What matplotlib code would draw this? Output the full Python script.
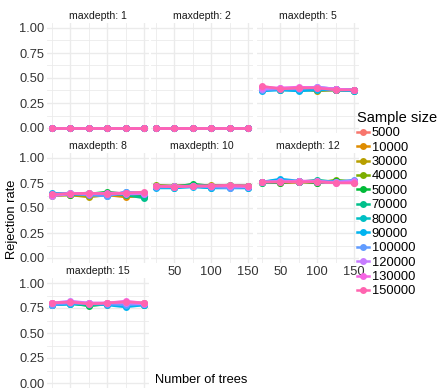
import matplotlib
matplotlib.use("Agg")
import matplotlib.pyplot as plt
from matplotlib.lines import Line2D

plt.rcParams['font.family'] = ['Liberation Sans', 'DejaVu Sans']

trees = [25, 50, 75, 100, 125, 150]
sample_sizes = ['5000', '10000', '30000', '40000', '50000', '70000', '80000',
                '90000', '100000', '120000', '130000', '150000']
colors = ['#F8766D', '#DE8C00', '#B79F00', '#7CAE00', '#00BA38', '#00C08B',
          '#00BFC4', '#00B4F0', '#619CFF', '#C77CFF', '#F564E3', '#FF64B0']
depths = [1, 2, 5, 8, 10, 12, 15]

zeros = [[0.0] * 6 for _ in sample_sizes]

depth5 = [
    [0.40, 0.39, 0.40, 0.39, 0.39, 0.38],
    [0.39, 0.38, 0.39, 0.38, 0.38, 0.38],
    [0.40, 0.39, 0.39, 0.37, 0.38, 0.38],
    [0.39, 0.39, 0.38, 0.38, 0.39, 0.37],
    [0.38, 0.39, 0.39, 0.39, 0.38, 0.38],
    [0.39, 0.38, 0.38, 0.39, 0.38, 0.37],
    [0.38, 0.39, 0.38, 0.39, 0.39, 0.38],
    [0.37, 0.38, 0.37, 0.38, 0.38, 0.37],
    [0.38, 0.39, 0.39, 0.41, 0.39, 0.38],
    [0.39, 0.40, 0.40, 0.41, 0.39, 0.38],
    [0.41, 0.40, 0.41, 0.40, 0.39, 0.38],
    [0.42, 0.39, 0.40, 0.40, 0.38, 0.38],
]
depth8 = [
    [0.63, 0.64, 0.63, 0.64, 0.62, 0.62],
    [0.64, 0.63, 0.62, 0.63, 0.61, 0.62],
    [0.62, 0.63, 0.61, 0.63, 0.63, 0.62],
    [0.63, 0.64, 0.63, 0.65, 0.64, 0.63],
    [0.64, 0.63, 0.64, 0.66, 0.64, 0.61],
    [0.63, 0.64, 0.65, 0.64, 0.63, 0.60],
    [0.64, 0.65, 0.64, 0.63, 0.65, 0.64],
    [0.65, 0.64, 0.64, 0.62, 0.66, 0.64],
    [0.64, 0.64, 0.63, 0.62, 0.66, 0.65],
    [0.62, 0.64, 0.65, 0.64, 0.64, 0.64],
    [0.63, 0.65, 0.64, 0.65, 0.65, 0.65],
    [0.64, 0.64, 0.65, 0.64, 0.65, 0.66],
]
depth10 = [
    [0.72, 0.72, 0.72, 0.71, 0.72, 0.71],
    [0.71, 0.72, 0.73, 0.72, 0.71, 0.72],
    [0.72, 0.71, 0.72, 0.73, 0.72, 0.71],
    [0.73, 0.72, 0.73, 0.72, 0.72, 0.72],
    [0.72, 0.71, 0.74, 0.72, 0.73, 0.72],
    [0.71, 0.70, 0.73, 0.71, 0.72, 0.71],
    [0.71, 0.71, 0.72, 0.70, 0.71, 0.70],
    [0.70, 0.70, 0.71, 0.70, 0.70, 0.70],
    [0.71, 0.71, 0.72, 0.71, 0.70, 0.71],
    [0.72, 0.72, 0.72, 0.72, 0.72, 0.71],
    [0.72, 0.71, 0.72, 0.72, 0.72, 0.72],
    [0.72, 0.71, 0.72, 0.72, 0.73, 0.72],
]
depth12 = [
    [0.76, 0.76, 0.76, 0.76, 0.76, 0.75],
    [0.76, 0.75, 0.76, 0.77, 0.76, 0.76],
    [0.76, 0.76, 0.77, 0.76, 0.77, 0.76],
    [0.75, 0.76, 0.76, 0.75, 0.78, 0.76],
    [0.76, 0.75, 0.77, 0.75, 0.77, 0.77],
    [0.75, 0.77, 0.76, 0.78, 0.76, 0.77],
    [0.76, 0.78, 0.76, 0.77, 0.76, 0.77],
    [0.76, 0.79, 0.77, 0.76, 0.76, 0.77],
    [0.76, 0.77, 0.76, 0.77, 0.76, 0.78],
    [0.76, 0.77, 0.77, 0.76, 0.76, 0.77],
    [0.76, 0.76, 0.77, 0.77, 0.75, 0.76],
    [0.76, 0.76, 0.76, 0.76, 0.75, 0.75],
]
depth15 = [
    [0.79, 0.80, 0.79, 0.78, 0.81, 0.79],
    [0.80, 0.80, 0.79, 0.80, 0.80, 0.79],
    [0.79, 0.81, 0.79, 0.79, 0.80, 0.80],
    [0.79, 0.80, 0.78, 0.79, 0.79, 0.79],
    [0.78, 0.80, 0.77, 0.79, 0.79, 0.78],
    [0.79, 0.79, 0.78, 0.79, 0.78, 0.78],
    [0.78, 0.79, 0.79, 0.79, 0.77, 0.79],
    [0.78, 0.79, 0.80, 0.78, 0.76, 0.78],
    [0.78, 0.80, 0.79, 0.79, 0.78, 0.79],
    [0.80, 0.82, 0.80, 0.80, 0.80, 0.79],
    [0.80, 0.81, 0.80, 0.80, 0.82, 0.80],
    [0.80, 0.81, 0.79, 0.80, 0.81, 0.80],
]
rates = [zeros, zeros, depth5, depth8, depth10, depth12, depth15]

W, H = 442, 389
fig = plt.figure(figsize=(W / 100, H / 100), dpi=100)

col_left = [47.4, 151.4, 257.4]
row_top = [23, 153, 278]
pw, ph = 101.2, 110

def px_axes(left, top, w, h):
    return fig.add_axes([left / W, 1 - (top + h) / H, w / W, h / H])

grid_col = '#EBEBEB'
for i, d in enumerate(depths):
    r, c = divmod(i, 3)
    ax = px_axes(col_left[c], row_top[r], pw, ph)
    ax.set_xlim(18.75, 156.25)
    ax.set_ylim(-0.05, 1.05)
    ax.set_xticks([50, 100, 150])
    ax.set_xticks([25, 75, 125], minor=True)
    ax.set_yticks([0, 0.25, 0.5, 0.75, 1.0])
    ax.set_yticks([0.125, 0.375, 0.625, 0.875], minor=True)
    ax.grid(True, which='major', color=grid_col, lw=1.0)
    ax.grid(True, which='minor', color=grid_col, lw=0.6)
    ax.set_axisbelow(True)
    for s in ax.spines.values():
        s.set_visible(False)
    ax.tick_params(which='both', length=0, labelsize=9.3, labelcolor='#333333', pad=2)
    if c != 0:
        ax.set_yticklabels([])
    else:
        ax.set_yticklabels(['0.00', '0.25', '0.50', '0.75', '1.00'])
    # x labels only on the panels of row 2 that have nothing below them
    if not (r == 1 and c > 0):
        ax.set_xticklabels([])
    ax.set_title(f'maxdepth: {d}', fontsize=7.6, pad=3, color='#1A1A1A')
    for k, lab in enumerate(sample_sizes):
        ax.plot(trees, rates[i][k], color=colors[k], lw=1.8, marker='o',
                markersize=5, markeredgewidth=0, label=lab)

fig.text(12 / W, 1 - 219 / H, 'Rejection rate', rotation=90, ha='center',
         va='center', fontsize=9.3)
fig.text(201 / W, 1 - 380 / H, 'Number of trees', ha='center', va='center',
         fontsize=9.3)

handles = [Line2D([0], [0], color=col, lw=1.8, marker='o', markersize=5,
                  markeredgewidth=0) for col in colors]
leg = fig.legend(handles, sample_sizes, loc='upper left',
                 bbox_to_anchor=(357 / W, 1 - 111 / H), frameon=False,
                 title='Sample size', fontsize=9.3, title_fontsize=10.5,
                 handlelength=0.9, handletextpad=0.25, labelspacing=0.18,
                 borderaxespad=0, borderpad=0)
leg._legend_box.align = 'left'

fig.savefig('out.png', dpi=100)
